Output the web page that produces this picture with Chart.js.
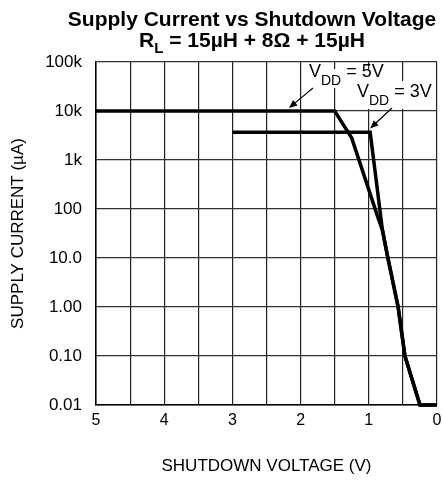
<!DOCTYPE html>
<html>
<head>
<meta charset="utf-8">
<script src="https://cdn.jsdelivr.net/npm/chart.js@4.4.1/dist/chart.umd.min.js"></script>
<style>
  html, body { margin: 0; padding: 0; background: #fff; }
</style>
</head>
<body>
<canvas id="chart" width="443" height="480"></canvas>
<script>
// ============================================
// Data
// ============================================

const vdd5Volts   = [5, 1.5, 1.25, 0.87, 0.8, 0.72, 0.57, 0.47, 0.25, 0];
const vdd5Current = [10000, 10000, 2800, 70, 37, 10, 1, 0.1, 0.01, 0.01];

const vdd3Volts   = [3, 0.98, 0.8, 0.72, 0.57, 0.47, 0.25, 0];
const vdd3Current = [3700, 3700, 37, 10, 1, 0.1, 0.01, 0.01];

const xGridValues = [0, 0.5, 1, 1.5, 2, 2.5, 3, 3.5, 4, 4.5, 5];
const yTickValues = [0.01, 0.1, 1, 10, 100, 1000, 10000, 100000];
const yTickLabels = ['0.01', '0.10', '1.00', '10.0', '100', '1k', '10k', '100k'];

const FONT = 'Arial, "Liberation Sans", Helvetica, sans-serif';

function toPoints(xs, ys) {
  return xs.map((x, i) => ({ x: x, y: ys[i] }));
}

// ============================================
// Title + curve labels (drawn on top of the chart)
// ============================================

const titlePlugin = {
  id: 'titleText',
  afterDraw(chart) {
    const ctx = chart.ctx;
    const cx = 252;
    ctx.save();
    ctx.fillStyle = '#000';
    ctx.textBaseline = 'alphabetic';
    ctx.font = 'bold 21px ' + FONT;
    ctx.textAlign = 'center';
    ctx.fillText('Supply Current vs Shutdown Voltage', cx, 26);

    // second line: R_L = 15µH + 8Ω + 15µH
    const mainFont = 'bold 21px ' + FONT;
    const subFont = 'bold 15px ' + FONT;
    const rest = ' = 15\u00B5H + 8\u03A9 + 15\u00B5H';
    ctx.font = mainFont;
    const wR = ctx.measureText('R').width;
    const wRest = ctx.measureText(rest).width;
    ctx.font = subFont;
    const wL = ctx.measureText('L').width;
    let x = cx - (wR + wL + wRest) / 2;
    ctx.textAlign = 'left';
    ctx.font = mainFont;
    ctx.fillText('R', x, 47);
    x += wR;
    ctx.font = subFont;
    ctx.fillText('L', x, 53);
    x += wL;
    ctx.font = mainFont;
    ctx.fillText(rest, x, 47);
    ctx.restore();
  }
};

function drawArrow(ctx, x0, y0, x1, y1) {
  const ang = Math.atan2(y1 - y0, x1 - x0);
  const len = 9, half = 0.4;
  ctx.beginPath();
  ctx.moveTo(x0, y0);
  ctx.lineTo(x1 - Math.cos(ang) * len * 0.8, y1 - Math.sin(ang) * len * 0.8);
  ctx.lineWidth = 1.2;
  ctx.stroke();
  ctx.beginPath();
  ctx.moveTo(x1, y1);
  ctx.lineTo(x1 - len * Math.cos(ang - half), y1 - len * Math.sin(ang - half));
  ctx.lineTo(x1 - len * Math.cos(ang + half), y1 - len * Math.sin(ang + half));
  ctx.closePath();
  ctx.fill();
}

function drawVddLabel(ctx, x, y, value) {
  ctx.font = '18px ' + FONT;
  ctx.fillText('V', x, y);
  const wV = ctx.measureText('V').width;
  ctx.font = '14px ' + FONT;
  ctx.fillText('DD', x + wV, y + 8);
  const wDD = ctx.measureText('DD').width;
  ctx.font = '18px ' + FONT;
  ctx.fillText(' = ' + value, x + wV + wDD, y);
}

const labelPlugin = {
  id: 'vddLabels',
  afterDatasetsDraw(chart) {
    const ctx = chart.ctx;
    const xs = chart.scales.x, ys = chart.scales.y;
    ctx.save();
    // white patches behind the labels
    ctx.fillStyle = '#fff';
    ctx.fillRect(306, 69, 86, 19);
    ctx.fillRect(355, 81, 81, 28);

    ctx.fillStyle = '#000';
    ctx.strokeStyle = '#000';
    ctx.textAlign = 'left';
    ctx.textBaseline = 'alphabetic';
    drawVddLabel(ctx, 309, 77, '5V');
    drawVddLabel(ctx, 357, 97, '3V');

    // arrows point at the curves
    drawArrow(ctx, 313, 88, xs.getPixelForValue(2.17), ys.getPixelForValue(11500));
    drawArrow(ctx, 392, 108, xs.getPixelForValue(0.98), ys.getPixelForValue(4400));
    ctx.restore();
  }
};

// ============================================
// Chart
// ============================================

new Chart(document.getElementById('chart'), {
  type: 'scatter',
  data: {
    datasets: [
      {
        label: 'VDD = 5V',
        data: toPoints(vdd5Volts, vdd5Current),
        showLine: true,
        borderColor: '#000',
        borderWidth: 3.5,
        pointRadius: 0,
        tension: 0,
        clip: 6
      },
      {
        label: 'VDD = 3V',
        data: toPoints(vdd3Volts, vdd3Current),
        showLine: true,
        borderColor: '#000',
        borderWidth: 3.5,
        pointRadius: 0,
        tension: 0,
        clip: 6
      }
    ]
  },
  options: {
    responsive: false,
    animation: false,
    layout: {
      padding: { top: 62, right: 6, left: 0, bottom: 0 }
    },
    plugins: {
      legend: { display: false },
      tooltip: { enabled: false }
    },
    scales: {
      x: {
        type: 'linear',
        reverse: true,
        min: 0,
        max: 5,
        afterBuildTicks(scale) {
          scale.ticks = xGridValues.map(v => ({ value: v }));
        },
        afterFit(scale) {
          scale.height = 75;
        },
        grid: {
          color: '#222',
          lineWidth: 1.2,
          drawTicks: false
        },
        border: { color: '#000', width: 1.5 },
        ticks: {
          autoSkip: false,
          maxRotation: 0,
          padding: 6,
          color: '#000',
          font: { family: FONT, size: 16 },
          callback: function(value) {
            return Number.isInteger(value) ? String(value) : '';
          }
        },
        title: {
          display: true,
          text: 'SHUTDOWN VOLTAGE (V)',
          color: '#000',
          font: { family: FONT, size: 17 },
          padding: { top: 0, bottom: 3 }
        }
      },
      y: {
        type: 'logarithmic',
        min: 0.01,
        max: 100000,
        afterBuildTicks(scale) {
          scale.ticks = yTickValues.map(v => ({ value: v }));
        },
        afterFit(scale) {
          scale.width = 96;
        },
        grid: {
          color: '#333',
          lineWidth: 1.2,
          drawTicks: false
        },
        border: { color: '#000', width: 1.5 },
        ticks: {
          padding: 14,
          color: '#000',
          font: { family: FONT, size: 17 },
          callback: function(value) {
            const i = yTickValues.findIndex(v => Math.abs(v - value) / v < 1e-6);
            return i >= 0 ? yTickLabels[i] : '';
          }
        },
        title: {
          display: true,
          text: 'SUPPLY CURRENT (\u00B5A)',
          color: '#000',
          font: { family: FONT, size: 17 },
          padding: { top: 8, bottom: 0 }
        }
      }
    }
  },
  plugins: [titlePlugin, labelPlugin]
});
</script>
</body>
</html>
